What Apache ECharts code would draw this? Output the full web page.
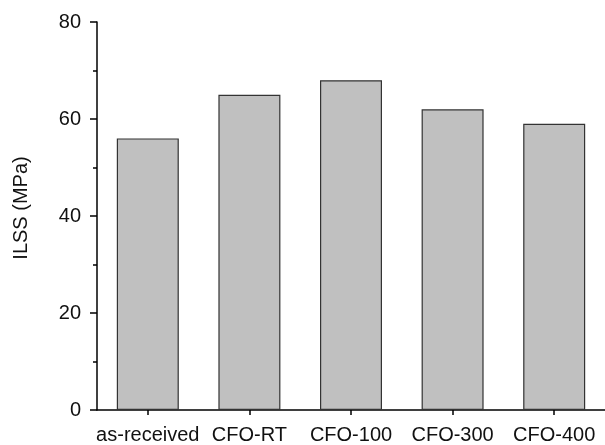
<!DOCTYPE html>
<html>
<head>
<meta charset="utf-8">
<script src="https://cdn.jsdelivr.net/npm/echarts@6/dist/echarts.min.js"></script>
<style>
  html, body { margin: 0; padding: 0; background: #fff; }
  #chart { width: 605px; height: 445px; }
</style>
</head>
<body>
<div id="chart"></div>
<script>
// Interlaminar shear strength per treatment
const categories = ['as-received', 'CFO-RT', 'CFO-100', 'CFO-300', 'CFO-400'];
const ilss = [56, 65, 68, 62, 59];
const yTicks = [0, 20, 40, 60, 80];

const chart = echarts.init(document.getElementById('chart'));
const font = 'Liberation Sans, Arial, sans-serif';

chart.setOption({
  animation: false,
  grid: { left: 97, top: 22, width: 516, height: 388, containLabel: false },
  xAxis: {
    type: 'category',
    data: categories,
    axisLine: { lineStyle: { color: '#000', width: 1.5 } },
    axisTick: { show: true, alignWithLabel: true, length: 5, lineStyle: { color: '#000', width: 1.5 } },
    axisLabel: { color: '#111', fontFamily: font, fontSize: 20, margin: 15, interval: 0 }
  },
  yAxis: {
    type: 'value',
    min: yTicks[0],
    max: yTicks[yTicks.length - 1],
    interval: 20,
    name: 'ILSS (MPa)',
    nameLocation: 'middle',
    nameGap: 66,
    nameTextStyle: { color: '#111', fontFamily: font, fontSize: 20, padding: [0, 0, 0, 16] },
    axisLine: { show: true, lineStyle: { color: '#000', width: 1.5 } },
    axisTick: { show: true, length: 7, lineStyle: { color: '#000', width: 1.5 } },
    minorTick: { show: true, splitNumber: 2, length: 4, lineStyle: { color: '#000', width: 1.5 } },
    splitLine: { show: false },
    axisLabel: { color: '#111', fontFamily: font, fontSize: 20, margin: 16 }
  },
  series: [{
    type: 'bar',
    data: ilss,
    barWidth: 62,
    itemStyle: { color: '#c0c0c0', borderColor: '#333', borderWidth: 1.2 }
  }]
});
</script>
</body>
</html>
